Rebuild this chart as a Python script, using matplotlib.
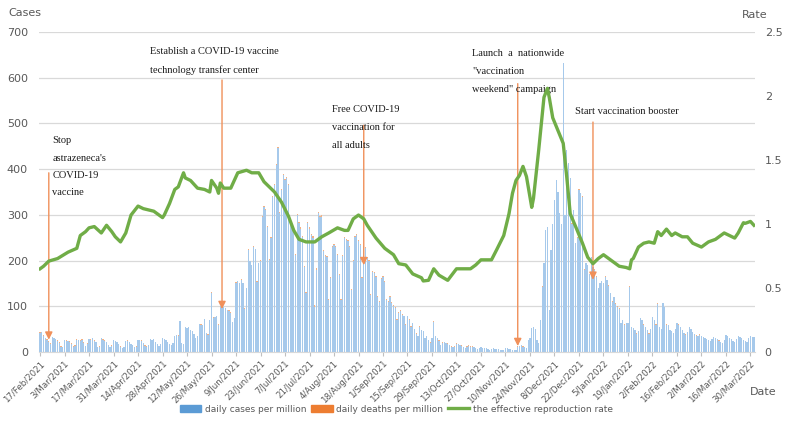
import numpy as np
import pandas as pd
import matplotlib
matplotlib.use("Agg")
import matplotlib.pyplot as plt
from matplotlib.lines import Line2D
from matplotlib.patches import Patch

# daily cases per million, one row per week starting Wed 17/Feb/2021
cases_weeks = [
    [42, 43, 35, 30, 27, 22, 18],
    [32, 30, 28, 25, 20, 12, 10],
    [26, 25, 24, 22, 18, 12, 14],
    [27, 26, 25, 27, 20, 13, 18],
    [28, 27, 30, 25, 22, 10, 12],
    [30, 27, 25, 22, 15, 10, 14],
    [26, 24, 22, 18, 12, 8, 10],
    [24, 25, 22, 18, 15, 10, 12],
    [27, 26, 25, 20, 14, 12, 15],
    [28, 27, 29, 22, 18, 13, 17],
    [30, 28, 26, 22, 18, 15, 20],
    [35, 37, 36, 67, 20, 18, 55],
    [52, 55, 48, 45, 40, 30, 35],
    [61, 60, 58, 72, 41, 38, 70],
    [130, 75, 77, 79, 60, 100, 102],
    [98, 96, 92, 90, 86, 65, 74],
    [152, 155, 150, 158, 150, 95, 140],
    [223, 198, 190, 230, 225, 154, 194],
    [200, 296, 318, 310, 274, 201, 250],
    [340, 365, 410, 446, 304, 355, 387],
    [376, 380, 365, 290, 273, 260, 212],
    [300, 282, 270, 252, 186, 128, 282],
    [270, 255, 250, 99, 180, 303, 295],
    [296, 220, 210, 208, 114, 161, 230],
    [234, 230, 212, 169, 114, 210, 249],
    [245, 242, 230, 136, 198, 252, 256],
    [242, 234, 161, 230, 227, 205, 200],
    [125, 176, 172, 165, 121, 110, 160],
    [165, 154, 114, 110, 121, 107, 100],
    [96, 70, 85, 90, 81, 78, 60],
    [78, 70, 55, 63, 50, 40, 34],
    [55, 48, 45, 30, 34, 26, 20],
    [30, 66, 34, 30, 25, 15, 20],
    [22, 19, 18, 15, 12, 10, 12],
    [18, 17, 15, 14, 10, 8, 12],
    [14, 12, 12, 11, 8, 6, 9],
    [10, 9, 8, 8, 6, 5, 6],
    [8, 7, 7, 6, 5, 4, 5],
    [8, 8, 7, 6, 5, 4, 5],
    [12, 13, 15, 12, 10, 8, 26],
    [30, 52, 55, 50, 26, 20, 70],
    [143, 194, 267, 274, 92, 223, 280],
    [333, 376, 350, 303, 280, 632, 300],
    [442, 413, 380, 281, 311, 238, 250],
    [355, 347, 340, 180, 194, 190, 170],
    [208, 186, 180, 165, 140, 150, 155],
    [150, 165, 157, 145, 128, 110, 120],
    [106, 99, 95, 63, 70, 60, 63],
    [63, 143, 55, 52, 48, 40, 45],
    [74, 70, 60, 55, 48, 40, 50],
    [77, 70, 60, 106, 55, 50, 107],
    [99, 60, 59, 48, 45, 42, 50],
    [63, 60, 55, 48, 41, 38, 44],
    [55, 50, 44, 40, 36, 34, 38],
    [34, 32, 30, 28, 26, 24, 28],
    [33, 30, 28, 25, 22, 20, 26],
    [37, 34, 30, 28, 24, 22, 28],
    [35, 33, 30, 27, 24, 22, 30],
    [34, 33, 32],
]

# daily deaths per million, one value per week (same weeks as above)
deaths_weekly = [
    1.6, 1.2, 1.0, 0.8, 0.6, 0.5, 0.4, 0.4, 0.3, 0.3,
    0.3, 0.4, 0.4, 0.5, 0.6, 0.8, 1.0, 1.4, 1.8, 2.2,
    2.6, 2.8, 2.8, 2.6, 2.5, 2.4, 2.2, 2.0, 1.8, 1.6,
    1.4, 1.2, 1.0, 0.8, 0.6, 0.5, 0.4, 0.3, 0.3, 0.3,
    0.3, 0.3, 0.4, 0.5, 0.7, 0.9, 0.9, 0.8, 0.7, 0.6,
    0.5, 0.5, 0.4, 0.3, 0.3, 0.2, 0.2, 0.2, 0.2,
]

# effective reproduction rate: day offset from 17/Feb/2021, value
rt_day = [0, 2, 5, 10, 16, 21, 23, 26, 28, 31, 35, 38, 41, 43, 46, 49, 52, 56,
          59, 65, 70, 71, 74, 77, 79, 82, 83, 86, 90, 94, 97, 98, 101, 102, 103,
          105, 109, 113, 118, 121, 125, 128, 134, 138, 142, 145, 148, 152, 157,
          161, 165, 170, 174, 176, 179, 182, 185, 187, 192, 197, 202, 205, 209,
          213, 218, 219, 222, 225, 228, 233, 238, 242, 246, 249, 252, 258, 261,
          265, 268, 270, 272, 274, 276, 278, 281, 282, 285, 288, 290, 291, 293,
          296, 299, 301, 303, 307, 310, 313, 316, 319, 322, 325, 327, 331, 335,
          337, 338, 339, 342, 345, 348, 351, 353, 355, 358, 361, 363, 367, 370,
          373, 378, 382, 386, 391, 394, 397, 399, 402, 403, 406, 408]
rt_value = [0.65, 0.67, 0.71, 0.73, 0.78, 0.81, 0.91, 0.94, 0.97, 0.98, 0.93,
            0.99, 0.94, 0.90, 0.86, 0.93, 1.07, 1.14, 1.12, 1.10, 1.05, 1.07,
            1.16, 1.27, 1.29, 1.40, 1.36, 1.34, 1.28, 1.27, 1.25, 1.34, 1.28,
            1.24, 1.32, 1.28, 1.28, 1.40, 1.42, 1.40, 1.40, 1.33, 1.25, 1.17,
            1.06, 0.95, 0.88, 0.86, 0.86, 0.90, 0.93, 0.97, 0.95, 0.95, 1.04,
            1.07, 1.04, 0.99, 0.89, 0.81, 0.76, 0.69, 0.68, 0.61, 0.58, 0.555,
            0.56, 0.65, 0.60, 0.56, 0.65, 0.65, 0.65, 0.68, 0.72, 0.72, 0.80,
            0.91, 1.08, 1.24, 1.34, 1.38, 1.45, 1.37, 1.13, 1.20, 1.58, 1.99,
            2.06, 1.99, 1.83, 1.73, 1.63, 1.37, 1.08, 0.95, 0.85, 0.74, 0.69,
            0.73, 0.76, 0.73, 0.71, 0.67, 0.66, 0.65, 0.72, 0.73, 0.82, 0.85,
            0.86, 0.85, 0.94, 0.91, 0.96, 0.91, 0.93, 0.90, 0.90, 0.85, 0.82,
            0.86, 0.88, 0.93, 0.91, 0.89, 0.93, 1.01, 1.005, 1.02, 0.99]

# events: date, arrow top / tip (cases units), text lines
event_dates = ["2021-02-22", "2021-06-01", "2021-08-21", "2021-11-17", "2021-12-30"]
event_top = [392, 595, 496, 587, 503]
event_tip = [27, 94, 190, 13, 158]
event_text = [
    ["Stop", "astrazeneca's", "COVID-19", "vaccine"],
    ["Establish a COVID-19 vaccine", "technology transfer center"],
    ["Free COVID-19", "vaccination for", "all adults"],
    ["Launch  a  nationwide", "\"vaccination", "weekend\" campaign"],
    ["Start vaccination booster"],
]
text_x = ["2021-02-24", "2021-04-21", "2021-08-03", "2021-10-22", "2021-12-20"]
text_y = [462, 657, 530, 653, 525]
text_gap = [38, 41, 39, 39, 0]

start = pd.Timestamp("2021-02-17")
cases = np.concatenate([np.array(w, dtype=float) for w in cases_weeks])
deaths = np.concatenate([np.full(len(w), d) for w, d in zip(cases_weeks, deaths_weekly)])
days = np.arange(len(cases))

grey = "#595959"
blue = "#a6c9eb"
orange = "#ed7d31"
green = "#70ad47"

fig = plt.figure(figsize=(7.85, 4.21), dpi=100)
ax = fig.add_axes([39 / 785, 1 - 352 / 421, 716 / 785, 320 / 421])

ax.bar(days, cases, width=0.8, color=blue, linewidth=0)
ax.bar(days, deaths, bottom=cases, width=0.8, color="#f4b183", linewidth=0)

ax.set_xlim(-0.6, 408.6)
ax.set_ylim(0, 700)
ax.set_yticks(np.arange(0, 701, 100))
ax.grid(axis="y", color="#d9d9d9", linewidth=0.9)
ax.set_axisbelow(True)
for s in ["top", "right", "left"]:
    ax.spines[s].set_visible(False)
ax.spines["bottom"].set_color("#d9d9d9")
ax.tick_params(axis="y", length=0, labelsize=8, labelcolor=grey, pad=8)

tick_dates = pd.date_range(start, "2022-04-02", freq="14D")
ax.set_xticks([(d - start).days for d in tick_dates])
ax.set_xticklabels([f"{d.day}/{d.strftime('%b')}/{d.year}" for d in tick_dates],
                   rotation=45, ha="right", rotation_mode="anchor")
ax.tick_params(axis="x", length=3, color="#bfbfbf", labelsize=6.2, labelcolor=grey, pad=2)

ax2 = ax.twinx()
ax2.plot(rt_day, rt_value, color=green, linewidth=2.4, solid_joinstyle="round")
ax2.set_ylim(0, 2.5)
ax2.set_yticks([0, 0.5, 1, 1.5, 2, 2.5])
ax2.set_yticklabels(["0", "0.5", "1", "1.5", "2", "2.5"])
ax2.tick_params(axis="y", length=0, labelsize=8, labelcolor=grey, pad=7)
for s in ax2.spines.values():
    s.set_visible(False)

# event arrows and notes
for i, d in enumerate(event_dates):
    x = (pd.Timestamp(d) - start).days
    ax.annotate("", xy=(x, event_tip[i]), xytext=(x, event_top[i]),
                arrowprops=dict(arrowstyle="-|>", color="#f0905a", lw=1,
                                mutation_scale=11, shrinkA=0, shrinkB=0),
                zorder=5)
    tx = (pd.Timestamp(text_x[i]) - start).days
    for j, line in enumerate(event_text[i]):
        ax.text(tx, text_y[i] - j * text_gap[i], line, family="Liberation Serif",
                fontsize=7.5, color="#1a1a1a", va="center", ha="left", zorder=6)

fig.text(8 / 785, 1 - 13 / 421, "Cases", fontsize=8, color=grey, va="center")
fig.text(742 / 785, 1 - 15 / 421, "Rate", fontsize=8, color=grey, va="center")
fig.text(750 / 785, 1 - 392 / 421, "Date", fontsize=8, color=grey, va="center")

handles = [Patch(color="#5b9bd5"), Patch(color=orange),
           Line2D([], [], color=green, linewidth=2.4)]
labels = ["daily cases per million", "daily deaths per million",
          "the effective reproduction rate"]
fig.legend(handles, labels, loc="center", bbox_to_anchor=(0.505, 1 - 409 / 421),
           ncol=3, frameon=False, fontsize=6.5, labelcolor=grey,
           handlelength=2.4, handleheight=0.7, handletextpad=0.4, columnspacing=0.5)

fig.savefig("out.png", dpi=100)
